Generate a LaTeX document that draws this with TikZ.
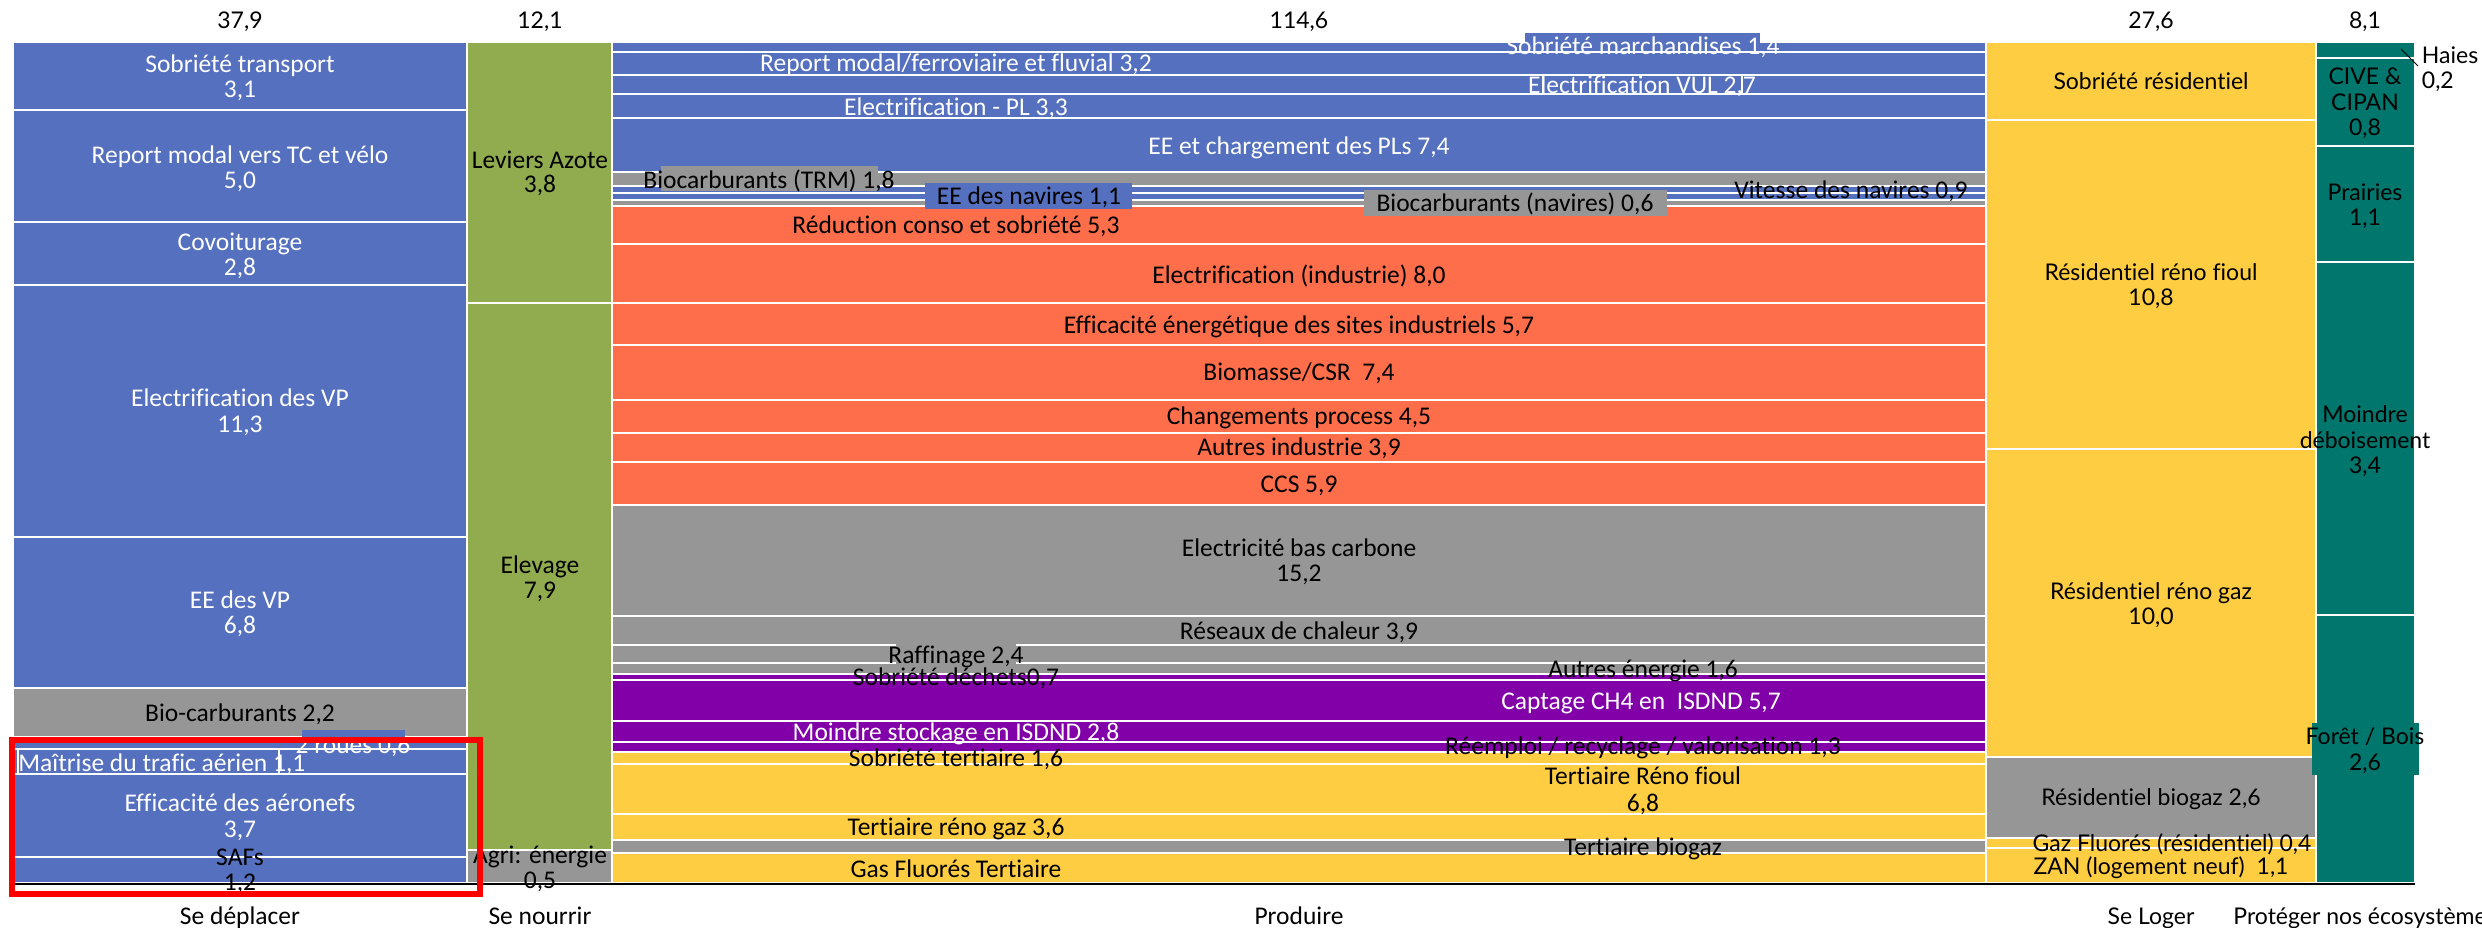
\documentclass[tikz,border=0pt]{standalone}
\usepackage{fontspec}
\setmainfont{Carlito}[Ligatures=NoCommon]
\newfontfamily\mar{Lato}[Ligatures=NoCommon]
\definecolor{cblue}{RGB}{84,112,190}
\definecolor{cgreen}{RGB}{144,172,79}
\definecolor{corange}{RGB}{255,110,74}
\definecolor{cgray}{RGB}{150,150,150}
\definecolor{cpurple}{RGB}{130,0,168}
\definecolor{cyellow}{RGB}{255,205,65}
\definecolor{cteal}{RGB}{0,118,108}
\begin{document}
\begin{tikzpicture}[x=0.5pt,y=-0.5pt,
  seg/.style={draw=white,line width=1pt},
  cl/.style={font=\fontsize{12.75}{14}\selectfont,anchor=base,inner sep=0pt,text=black},
  wl/.style={cl,text=white},
  ml/.style={font=\mar\fontsize{11.5}{13}\selectfont,anchor=base,inner sep=0pt,text=black},
  mll/.style={ml,anchor=base west}]
\useasboundingbox (0,0) rectangle (2482,927);
\clip (0,0) rectangle (2482,927);
% ---------- column 1 : Se deplacer
\filldraw[seg,fill=cblue] (12.5,41.7) rectangle (467,110);
\filldraw[seg,fill=cblue] (12.5,110) rectangle (467,221.7);
\filldraw[seg,fill=cblue] (12.5,221.7) rectangle (467,285);
\filldraw[seg,fill=cblue] (12.5,285) rectangle (467,536.7);
\filldraw[seg,fill=cblue] (12.5,536.7) rectangle (467,688);
\filldraw[seg,fill=cgray] (12.5,688) rectangle (467,737.3);
\filldraw[seg,fill=cblue] (12.5,737.3) rectangle (467,749);
\filldraw[seg,fill=cblue] (12.5,749) rectangle (467,774);
\filldraw[seg,fill=cblue] (12.5,774) rectangle (467,856.7);
\filldraw[seg,fill=cblue] (12.5,856.7) rectangle (467,882.7);
% ---------- column 2 : Se nourrir
\filldraw[seg,fill=cgreen] (467,41.7) rectangle (612,302.5);
\filldraw[seg,fill=cgreen] (467,302.5) rectangle (612,850);
\filldraw[seg,fill=cgray] (467,850) rectangle (612,882.7);
% ---------- column 3 : Produire
\foreach \a/\b/\c in {41.7/51.5/cblue,51.5/74.5/cblue,74.5/94.3/cblue,94.3/118.2/cblue,
  118.2/172.2/cblue,172.2/186/cgray,186/192.5/cblue,192.5/200.3/cblue,200.3/205.7/cgray,
  205.7/244.3/corange,244.3/302.8/corange,302.8/345/corange,345/399.5/corange,
  399.5/432.8/corange,432.8/461.7/corange,461.7/504.5/corange,
  504.5/616/cgray,616/644.5/cgray,644.5/662.8/cgray,662.8/673.8/cgray,
  673.8/679.5/cpurple,679.5/720.7/cpurple,720.7/742.2/cpurple,742.2/751.7/cpurple,
  751.7/763.7/cyellow,763.7/813.8/cyellow,813.8/840/cyellow,840/852.8/cgray,852.8/882.7/cyellow}
  {\filldraw[seg,fill=\c] (612,\a) rectangle (1986,\b);}
% ---------- column 4 : Se loger
\filldraw[seg,fill=cyellow] (1986,41.7) rectangle (2316,119.5);
\filldraw[seg,fill=cyellow] (1986,119.5) rectangle (2316,449.3);
\filldraw[seg,fill=cyellow] (1986,449.3) rectangle (2316,756.8);
\filldraw[seg,fill=cgray] (1986,756.8) rectangle (2316,837.5);
\filldraw[seg,fill=cyellow] (1986,837.5) rectangle (2316,847.5);
\filldraw[seg,fill=cyellow] (1986,847.5) rectangle (2316,882.7);
% ---------- column 5 : Proteger
\filldraw[seg,fill=cteal] (2316,41.7) rectangle (2414.5,57.8);
\filldraw[seg,fill=cteal] (2316,57.8) rectangle (2414.5,145.8);
\filldraw[seg,fill=cteal] (2316,145.8) rectangle (2414.5,262.3);
\filldraw[seg,fill=cteal] (2316,262.3) rectangle (2414.5,614.8);
\filldraw[seg,fill=cteal] (2316,614.8) rectangle (2414.5,882.7);
% axis line
\draw[black,line width=1pt] (12,883.5) -- (2415,883.5);
% ---------- headers
\node[ml] (h1) at (240,28.5) {37,9};
\node[ml] (h2) at (540,28.5) {12,1};
\node[ml] (h3) at (1299,28.5) {114,6};
\node[ml] (h4) at (2151,28.5) {27,6};
\node[ml] (h5) at (2365,28.5) {8,1};
% ---------- column 1 labels
\node[wl] (a1) at (240,72) {Sobriété transport};
\node[wl] (a1v) at (240,97.3) {3,1};
\node[wl] (a2) at (240,163) {Report modal vers TC et vélo};
\node[wl] (a2v) at (240,188) {5,0};
\node[wl] (a3) at (240,250.3) {Covoiturage};
\node[wl] (a3v) at (240,275.7) {2,8};
\node[wl] (a4) at (240,406.3) {Electrification des VP};
\node[wl] (a4v) at (240,432) {11,3};
\node[wl] (a5) at (240,608) {EE des VP};
\node[wl] (a5v) at (240,633.7) {6,8};
\node[cl] (a6) at (240,721.3) {Bio-carburants 2,2};
\node[wl] (a7) at (353,753) {2 roues 0,6};
\fill[cblue] (302,730) rectangle (405,743);
\filldraw[draw=white,line width=1pt,fill=cblue] (17.5,749) rectangle (279,774);
\node[wl,anchor=base west] (a8) at (18,771) {Maîtrise du trafic aérien 1,1};
\node[wl] (a9) at (240,811.3) {Efficacité des aéronefs};
\node[wl] (a9v) at (240,837.3) {3,7};
\node[cl] (a10) at (240,865.3) {SAFs};
\node[cl] (a10v) at (240,890.7) {1,2};
% ---------- column 2 labels
\node[cl] (b1) at (540,168) {Leviers Azote};
\node[cl] (b1v) at (540,192.3) {3,8};
\node[cl] (b2) at (540,573) {Elevage};
\node[cl] (b2v) at (540,598) {7,9};
\node[cl] (b3) at (540,863.7) {Agri: énergie};
\node[cl] (b3v) at (540,888.7) {0,5};
% ---------- column 3 labels
\fill[cblue] (1524.5,33.3) rectangle (1759.8,50);
\node[wl] (c1) at (1643,54.7) {Sobriété marchandises 1,4};
\node[wl] (c2) at (956,71.3) {Report modal/ferroviaire et fluvial 3,2};
\draw[white,line width=1pt] (1543,74.5) rectangle (1742,94.3);
\node[wl] (c3) at (1642,93) {Electrification VUL 2,7};
\node[wl] (c4) at (956,115.7) {Electrification - PL 3,3};
\node[wl] (c5) at (1299,154.7) {EE et chargement des PLs 7,4};
\fill[cgray] (661,165.7) rectangle (878,190.7);
\node[cl] (c6) at (769,188) {Biocarburants (TRM) 1,8};
\fill[cblue] (925,183.3) rectangle (1132,209);
\node[cl] (c7) at (1029,204.7) {EE des navires 1,1};
\node[cl] (c8) at (1851,198) {Vitesse des navires 0,9};
\fill[cgray] (1364,190) rectangle (1667,215.7);
\node[cl] (c9) at (1515,211.3) {Biocarburants (navires) 0,6};
\node[cl] (c10) at (956,233.7) {Réduction conso et sobriété 5,3};
\node[cl] (c11) at (1299,283) {Electrification (industrie) 8,0};
\node[cl] (c12) at (1299,333) {Efficacité énergétique des sites industriels 5,7};
\node[cl] (c13) at (1299,380.7) {Biomasse/CSR\ \ 7,4};
\node[cl] (c14) at (1299,424.7) {Changements process 4,5};
\node[cl] (c15) at (1299,455.3) {Autres industrie 3,9};
\node[cl] (c16) at (1299,492) {CCS 5,9};
\node[cl] (c17) at (1299,556.3) {Electricité bas carbone};
\node[cl] (c17v) at (1299,581.3) {15,2};
\node[cl] (c18) at (1299,639.7) {Réseaux de chaleur 3,9};
\fill[cgray] (896,642) rectangle (1016,664);
\node[cl] (c19) at (956,663) {Raffinage 2,4};
\node[cl] (c20) at (1643,677.3) {Autres énergie 1,6};
\node[cl] (c21) at (956,685.3) {Sobriété déchets0,7};
\node[wl] (c22) at (1641,709.7) {Captage CH4 en\ \ ISDND 5,7};
\node[wl] (c23) at (956,740.7) {Moindre stockage en ISDND 2,8};
\node[cl] (c24) at (1643,754.7) {Réemploi / recyclage / valorisation 1,3};
\node[cl] (c25) at (956,766.3) {Sobriété tertiaire 1,6};
\node[cl] (c26) at (1643,784.7) {Tertiaire Réno fioul};
\node[cl] (c26v) at (1643,811.3) {6,8};
\node[cl] (c27) at (956,835.7) {Tertiaire réno gaz 3,6};
\node[cl] (c28) at (1643,855.3) {Tertiaire biogaz};
\node[cl] (c29) at (956,877.3) {Gas Fluorés Tertiaire};
% ---------- column 4 labels
\node[ml] (d1) at (2151,89) {Sobriété résidentiel};
\node[ml] (d2) at (2151,280.7) {Résidentiel réno fioul};
\node[ml] (d2v) at (2151,305.7) {10,8};
\node[ml] (d3) at (2151,599.7) {Résidentiel réno gaz};
\node[ml] (d3v) at (2151,624.7) {10,0};
\node[ml] (d4) at (2151,805.3) {Résidentiel biogaz 2,6};
\node[ml] (d5) at (2172,851.3) {Gaz Fluorés (résidentiel) 0,4};
\node[ml] (d6) at (2161,874.7) {ZAN (logement neuf)\ \ 1,1};
% ---------- column 5 labels
\node[ml] (e1) at (2365,84.7) {CIVE \&};
\node[ml] (e1b) at (2365,110.7) {CIPAN};
\node[ml] (e1v) at (2365,135.7) {0,8};
\node[ml] (e2) at (2365,200.7) {Prairies};
\node[ml] (e2v) at (2365,225.7) {1,1};
\node[ml] (e3) at (2365,422.3) {Moindre};
\node[ml] (e3b) at (2365,448) {déboisement};
\node[ml] (e3v) at (2365,473) {3,4};
\fill[cteal] (2312,723.3) rectangle (2419,775);
\node[ml] (e4) at (2365,744.7) {Forêt / Bois};
\node[ml] (e4v) at (2365,770.7) {2,6};
\node[mll] (e5) at (2421.5,63) {Haies};
\node[mll] (e5v) at (2421.5,88) {0,2};
\coordinate (hA) at (2401,49);
\coordinate (hB) at (2418,66);
\draw[black,line width=0.5pt] (hA) -- (hB);
% ---------- bottom labels
\node[cl] (x1) at (240,924.5) {Se déplacer};
\node[cl] (x2) at (540,924.5) {Se nourrir};
\node[cl] (x3) at (1299,924.5) {Produire};
\node[ml] (x4) at (2151,924.5) {Se Loger};
\node[ml] (x5) at (2365,924.5) {Protéger nos écosystèmes};
% ---------- highlight
\draw[red,line width=2.75pt] (12,740) rectangle (480,894);
\end{tikzpicture}
\end{document}
